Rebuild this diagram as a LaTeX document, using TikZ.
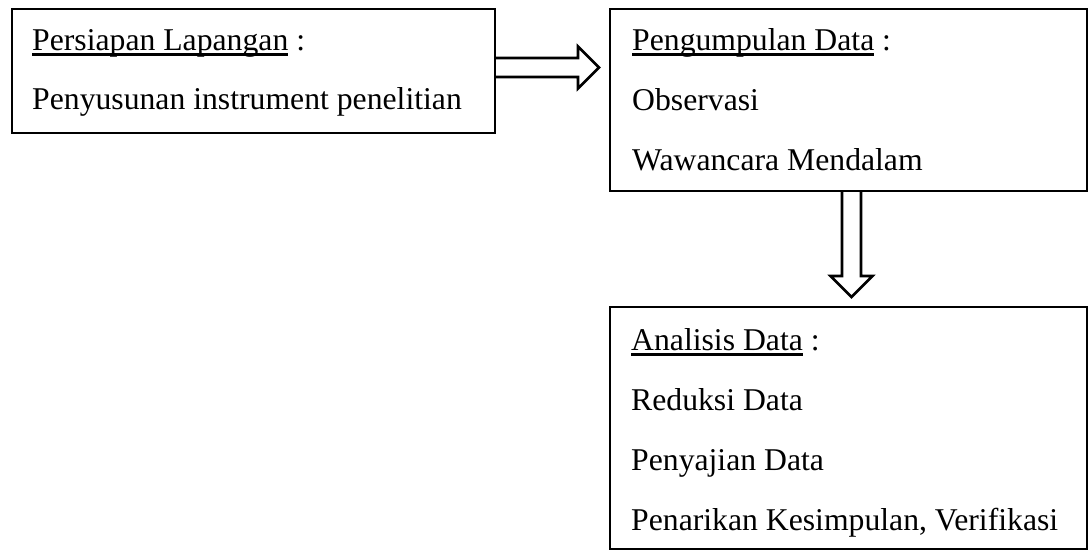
\documentclass[tikz,border=0pt]{standalone}
\usepackage{fontspec}
\setmainfont{Liberation Serif}
\usetikzlibrary{calc}

\newsavebox{\ulbox}
\newcommand{\ulword}[1]{\sbox{\ulbox}{#1}\rlap{\rule[-5.5pt]{\wd\ulbox}{2.4pt}}\usebox{\ulbox}}

\begin{document}
\begin{tikzpicture}[x=1pt, y=-1pt,
  font=\fontsize{31.7}{38}\selectfont,
  box/.style={draw, line width=2.6pt, outer sep=0pt, inner sep=0pt},
  txt/.style={anchor=base west, inner sep=0pt},
  blk/.style={draw, line width=2.6pt, line join=miter},
]
\useasboundingbox (0,0) rectangle (1090,552);

% Boxes
\node[box, minimum width=483pt, minimum height=124pt] (prep)    at (253.5,71) {};
\node[box, minimum width=477pt, minimum height=182pt] (collect) at (848.5,100) {};
\node[box, minimum width=477pt, minimum height=242pt] (analyse) at (848.5,428) {};

% Texts
\node[txt] (prepA) at (32,50)  {\ulword{Persiapan Lapangan} :};
\node[txt] (prepB) at (32,109) {Penyusunan instrument penelitian};

\node[txt] (collA) at (632,50)  {\ulword{Pengumpulan Data} :};
\node[txt] (collB) at (632,110) {Observasi};
\node[txt] (collC) at (632,170) {Wawancara Mendalam};

\node[txt] (anaA) at (631,350) {\ulword{Analisis Data} :};
\node[txt] (anaB) at (631,410) {Reduksi Data};
\node[txt] (anaC) at (631,470) {Penyajian Data};
\node[txt] (anaD) at (631,530) {Penarikan Kesimpulan, Verifikasi};

% Block arrows
\draw[blk] ([yshift=13pt]prep.east) -- ++(83,0) -- ++(0,-11.5) -- ++(21,21)
  -- ++(-21,21) -- ++(0,-11.5) -- ([yshift=-6pt]prep.east);
\draw[blk] ([xshift=-6.5pt]collect.south) -- ++(0,85) -- ++(-11.5,0) -- ++(21,21)
  -- ++(21,-21) -- ++(-11.5,0) -- ([xshift=12.5pt]collect.south);

\end{tikzpicture}
\end{document}
